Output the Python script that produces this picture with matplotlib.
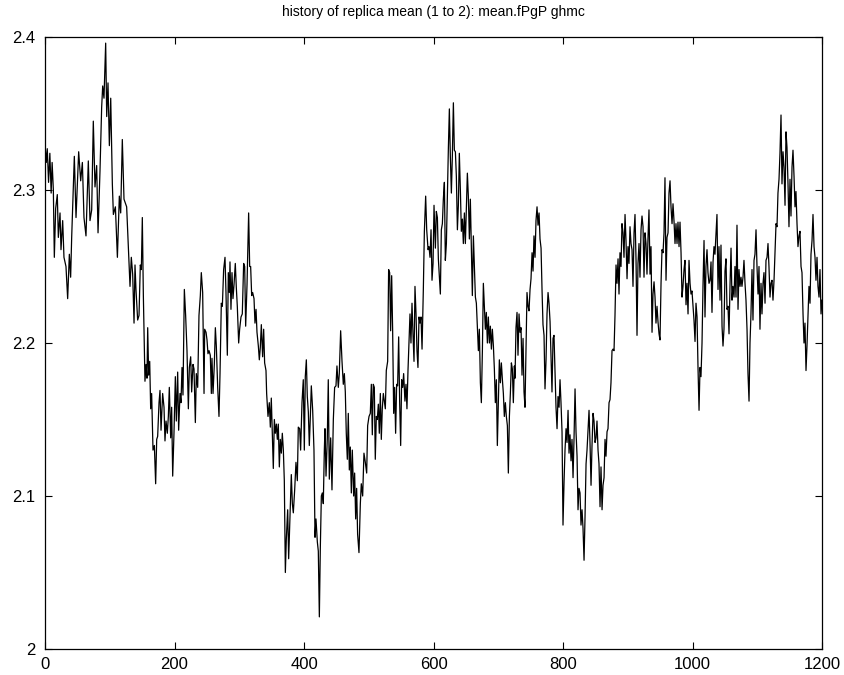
import matplotlib
matplotlib.use("Agg")
import matplotlib.pyplot as plt

# replica mean history
step = [
    # 0 - 140
    0.0, 2.0, 3.5, 5.5, 7.5, 9.5, 11.0, 12.9, 14.4, 16.5, 19.0, 20.6, 23.2, 24.7,
    27.3, 29.3, 32.4, 35.0, 37.6, 39.6, 41.2, 45.3, 47.9, 52.0, 55.1, 57.7, 60.2,
    63.3, 64.9, 66.9, 69.5, 72.1, 74.6, 77.2, 79.8, 81.9, 84.9, 87.5, 89.1, 91.1,
    93.7, 95.3, 97.3, 99.4, 101.5, 104.0, 105.6, 108.7, 111.8, 114.8, 116.9, 119.4,
    122.0, 126.1, 128.7, 131.3, 133.3, 135.4, 137.5,
    # 140 - 285
    139.0, 140.5, 143.1, 145.2, 147.2, 148.8, 150.3, 151.9, 154.4, 156.0, 157.5,
    158.6, 160.1, 161.7, 163.2, 164.7, 166.8, 168.9, 170.9, 172.5, 174.0, 176.1,
    177.6, 179.2, 181.7, 183.8, 185.3, 186.9, 188.9, 190.5, 192.0, 194.1, 195.6,
    197.2, 199.2, 201.3, 202.8, 204.9, 206.4, 208.5, 210.0, 211.6, 213.1, 215.2,
    217.2, 219.3, 221.4, 222.9, 225.0, 226.5, 228.6, 230.1, 232.2, 233.7, 235.8,
    237.8, 239.9, 241.4, 243.5, 245.6, 246.6, 248.7, 250.2, 251.7, 253.3, 255.3,
    256.9, 257.9, 259.5, 261.5, 263.1, 264.6, 266.7, 268.7, 270.3, 272.3, 273.9,
    275.9, 278.0, 279.5, 281.6, 283.1, 284.7,
    # 285 - 432
    285.7, 287.2, 288.8, 290.3, 291.9, 293.9, 295.5, 297.0, 299.1, 300.6, 302.7,
    304.7, 306.8, 308.4, 309.9, 312.0, 314.5, 316.1, 317.6, 319.2, 320.7, 322.8,
    324.3, 325.9, 327.4, 329.5, 331.0, 332.5, 334.1, 336.1, 337.7, 339.2, 341.3,
    342.3, 344.4, 346.4, 348.0, 349.5, 351.1, 352.6, 354.2, 355.7, 357.3, 358.8,
    360.3, 361.9, 363.4, 365.0, 366.5, 368.1, 369.6, 371.2, 372.7, 374.8, 376.3,
    378.4, 380.4, 382.0, 383.5, 385.6, 387.6, 389.7, 391.2, 393.3, 394.8, 396.9,
    398.9, 400.5, 402.0, 403.6, 405.1, 406.7, 408.2, 409.8, 411.3, 413.4, 415.4,
    417.0, 418.5, 420.6, 422.1, 423.7, 425.2, 426.8, 428.3, 429.8, 431.4,
    # 432 - 578
    432.4, 434.0, 436.0, 437.5, 439.1, 441.2, 443.2, 445.3, 447.3, 449.4, 450.9,
    453.0, 454.5, 456.6, 458.7, 460.7, 462.3, 463.8, 465.3, 466.9, 468.4, 470.0,
    471.5, 473.1, 474.6, 476.7, 478.2, 479.8, 481.3, 482.8, 484.9, 487.0, 488.5,
    490.6, 492.6, 494.7, 496.8, 498.3, 500.4, 502.4, 504.0, 505.5, 507.0, 508.6,
    510.1, 511.7, 513.2, 514.8, 516.3, 517.9, 519.4, 520.9, 522.5, 524.0, 525.6,
    527.1, 529.2, 530.7, 532.3, 533.8, 535.4, 536.9, 538.5, 540.0, 541.5, 543.1,
    544.6, 546.2, 547.7, 549.3, 550.8, 552.4, 553.9, 555.9, 557.5, 559.0, 560.6,
    562.1, 563.7, 565.2, 566.8, 568.3, 569.9, 571.4, 573.0, 574.5, 576.0, 577.6,
    # 579 - 725
    579.2, 580.7, 582.3, 584.3, 585.9, 587.9, 589.5, 591.6, 593.1, 594.6, 596.2,
    597.7, 599.3, 600.8, 602.9, 604.4, 606.0, 607.5, 609.1, 610.6, 612.1, 613.7,
    615.2, 616.8, 618.3, 619.9, 621.4, 623.0, 624.5, 626.0, 627.6, 629.1, 630.7,
    632.2, 633.8, 635.3, 636.9, 638.4, 639.9, 641.5, 643.0, 644.6, 646.1, 647.7,
    649.2, 650.8, 652.3, 653.8, 655.4, 656.9, 658.5, 660.0, 661.6, 663.1, 664.7,
    666.2, 667.7, 669.3, 670.8, 672.4, 673.9, 675.5, 677.0, 678.6, 680.1, 681.6,
    683.2, 684.7, 686.3, 687.8, 689.4, 690.9, 692.5, 694.0, 695.5, 697.1, 698.6,
    700.2, 701.7, 703.3, 704.8, 706.4, 707.9, 709.4, 711.0, 712.5, 714.1, 715.6,
    717.2, 718.7, 720.3, 721.8, 723.3, 724.9,
    # 726 - 871
    725.9, 727.4, 729.0, 730.5, 732.1, 733.6, 735.2, 736.7, 738.3, 739.8, 741.3,
    742.9, 744.4, 746.0, 747.5, 749.1, 750.6, 752.2, 753.7, 755.2, 756.8, 758.3,
    759.9, 761.4, 763.0, 764.5, 766.1, 767.6, 769.1, 770.7, 772.2, 773.8, 775.3,
    776.9, 778.4, 780.0, 781.5, 783.0, 784.6, 786.1, 787.7, 789.2, 790.8, 792.3,
    793.9, 795.4, 796.9, 798.5, 800.0, 801.6, 803.1, 804.7, 806.2, 807.8, 809.3,
    810.8, 812.4, 813.9, 815.5, 817.0, 818.6, 820.1, 821.7, 823.2, 824.7, 826.3,
    827.8, 829.4, 830.9, 832.5, 834.0, 835.6, 837.1, 838.6, 840.2, 841.7, 843.3,
    844.8, 846.4, 847.9, 849.5, 851.0, 852.5, 854.1, 855.6, 857.2, 858.7, 860.3,
    861.8, 863.4, 864.9, 866.4, 868.0, 869.5, 871.1,
    # 872 - 1018
    872.6, 874.1, 875.7, 877.2, 878.8, 880.3, 881.9, 883.4, 885.0, 886.5, 888.0,
    889.6, 891.1, 892.7, 894.2, 895.8, 897.3, 898.9, 900.4, 901.9, 903.5, 905.0,
    906.6, 908.1, 909.7, 911.2, 912.8, 914.3, 915.8, 917.4, 918.9, 920.5, 922.0,
    923.6, 925.1, 926.7, 928.2, 929.7, 931.3, 932.8, 934.4, 935.9, 937.5, 939.0,
    940.6, 942.1, 943.6, 945.2, 946.7, 948.3, 949.8, 951.4, 952.9, 954.5, 956.0,
    957.5, 959.1, 960.6, 962.2, 963.7, 965.3, 966.8, 968.4, 969.9, 971.4, 973.0,
    974.5, 976.1, 977.6, 979.2, 980.7, 982.3, 983.8, 985.3, 986.9, 988.4, 990.0,
    991.5, 993.1, 994.6, 996.2, 997.7, 999.2, 1000.8, 1002.3, 1003.9, 1005.4,
    1007.0, 1008.5, 1010.1, 1011.6, 1013.1, 1014.7, 1016.2, 1017.8,
    # 1019 - 1200
    1019.3, 1020.8, 1022.4, 1023.9, 1025.5, 1027.0, 1028.6, 1030.1, 1031.7, 1033.2,
    1034.7, 1036.3, 1037.8, 1039.4, 1040.9, 1042.5, 1044.0, 1045.6, 1047.1, 1048.6,
    1050.2, 1051.7, 1053.3, 1054.8, 1056.4, 1057.9, 1059.5, 1061.0, 1062.5, 1064.1,
    1065.6, 1067.2, 1068.7, 1070.3, 1071.8, 1073.4, 1074.9, 1076.4, 1078.0, 1079.5,
    1081.1, 1082.6, 1084.2, 1085.7, 1087.3, 1088.8, 1090.3, 1091.9, 1093.4, 1095.0,
    1096.5, 1098.1, 1099.6, 1101.2, 1102.7, 1104.2, 1105.8, 1107.3, 1108.9, 1110.4,
    1112.0, 1113.5, 1115.1, 1116.6, 1118.1, 1119.7, 1121.2, 1122.8, 1124.3, 1125.9,
    1127.4, 1129.0, 1130.5, 1132.0, 1133.6, 1135.1, 1136.7, 1138.2, 1139.8, 1141.3,
    1142.9, 1144.4, 1145.9, 1147.5, 1149.0, 1150.6, 1152.1, 1153.7, 1155.2, 1156.8,
    1158.3, 1159.8, 1161.4, 1162.9, 1164.5, 1166.0, 1167.6, 1169.1, 1170.7, 1172.2,
    1173.7, 1175.3, 1176.8, 1178.4, 1179.9, 1181.5, 1183.0, 1184.6, 1186.1, 1187.7,
    1189.2, 1190.7, 1192.3, 1193.8, 1195.4, 1196.9, 1198.5, 1200.0,
]

mean = [
    # 0 - 140
    2.330, 2.318, 2.327, 2.305, 2.324, 2.298, 2.318, 2.300, 2.256, 2.288, 2.297, 2.269,
    2.285, 2.261, 2.280, 2.256, 2.250, 2.229, 2.258, 2.243, 2.269, 2.322, 2.282, 2.325,
    2.306, 2.318, 2.282, 2.270, 2.292, 2.319, 2.280, 2.287, 2.345, 2.302, 2.316, 2.272,
    2.312, 2.354, 2.368, 2.360, 2.396, 2.348, 2.370, 2.329, 2.360, 2.304, 2.284, 2.289,
    2.256, 2.296, 2.285, 2.333, 2.294, 2.289, 2.263, 2.237, 2.256, 2.245, 2.213,
    # 140 - 285
    2.251, 2.235, 2.215, 2.218, 2.251, 2.248, 2.282, 2.231, 2.175, 2.186, 2.177,
    2.210, 2.179, 2.188, 2.157, 2.167, 2.130, 2.133, 2.108, 2.137, 2.139, 2.161,
    2.169, 2.143, 2.167, 2.158, 2.136, 2.149, 2.141, 2.152, 2.171, 2.138, 2.158,
    2.113, 2.141, 2.178, 2.149, 2.181, 2.143, 2.167, 2.161, 2.184, 2.166, 2.235,
    2.218, 2.195, 2.157, 2.184, 2.191, 2.168, 2.186, 2.183, 2.148, 2.180, 2.171,
    2.218, 2.231, 2.246, 2.233, 2.167, 2.209, 2.207, 2.202, 2.193, 2.195, 2.192,
    2.167, 2.190, 2.167, 2.186, 2.210, 2.198, 2.171, 2.152, 2.180, 2.226, 2.224,
    2.248, 2.256, 2.233, 2.192, 2.246, 2.233,
    # 285 - 432
    2.253, 2.222, 2.246, 2.229, 2.238, 2.252, 2.236, 2.224, 2.200, 2.209, 2.217,
    2.219, 2.252, 2.250, 2.211, 2.238, 2.285, 2.250, 2.250, 2.231, 2.233, 2.229,
    2.213, 2.222, 2.207, 2.198, 2.189, 2.197, 2.212, 2.191, 2.209, 2.187, 2.182,
    2.167, 2.152, 2.161, 2.145, 2.164, 2.139, 2.118, 2.150, 2.141, 2.147, 2.137,
    2.147, 2.119, 2.137, 2.128, 2.141, 2.130, 2.110, 2.050, 2.072, 2.091, 2.059,
    2.087, 2.114, 2.095, 2.089, 2.104, 2.122, 2.110, 2.145, 2.144, 2.130, 2.161,
    2.176, 2.130, 2.178, 2.189, 2.165, 2.155, 2.133, 2.152, 2.172, 2.156, 2.130,
    2.073, 2.085, 2.070, 2.064, 2.021, 2.066, 2.100, 2.102, 2.095, 2.130,
    # 432 - 578
    2.144, 2.113, 2.138, 2.176, 2.111, 2.138, 2.104, 2.150, 2.171, 2.172, 2.185,
    2.171, 2.180, 2.208, 2.188, 2.173, 2.180, 2.168, 2.141, 2.124, 2.154, 2.117,
    2.132, 2.102, 2.130, 2.100, 2.115, 2.085, 2.105, 2.075, 2.063, 2.095, 2.108,
    2.100, 2.128, 2.122, 2.115, 2.146, 2.152, 2.154, 2.173, 2.140, 2.173, 2.171,
    2.124, 2.152, 2.150, 2.160, 2.141, 2.167, 2.137, 2.157, 2.167, 2.162, 2.157,
    2.182, 2.188, 2.248, 2.246, 2.208, 2.244, 2.208, 2.154, 2.171, 2.141, 2.173,
    2.172, 2.204, 2.162, 2.133, 2.176, 2.171, 2.180, 2.162, 2.173, 2.157, 2.182,
    2.200, 2.219, 2.200, 2.226, 2.206, 2.188, 2.237, 2.219, 2.195, 2.184, 2.217,
    # 579 - 725
    2.213, 2.217, 2.196, 2.235, 2.273, 2.296, 2.274, 2.261, 2.263, 2.256, 2.274,
    2.241, 2.252, 2.290, 2.262, 2.286, 2.282, 2.255, 2.243, 2.232, 2.274, 2.278,
    2.294, 2.305, 2.254, 2.265, 2.296, 2.328, 2.353, 2.322, 2.298, 2.322, 2.357,
    2.326, 2.325, 2.309, 2.274, 2.290, 2.324, 2.300, 2.273, 2.281, 2.265, 2.285,
    2.265, 2.289, 2.311, 2.296, 2.268, 2.294, 2.261, 2.231, 2.270, 2.250, 2.230,
    2.226, 2.211, 2.195, 2.209, 2.174, 2.161, 2.195, 2.239, 2.224, 2.209, 2.220,
    2.200, 2.217, 2.200, 2.211, 2.196, 2.209, 2.198, 2.183, 2.161, 2.176, 2.133,
    2.161, 2.189, 2.174, 2.187, 2.176, 2.167, 2.152, 2.161, 2.152, 2.146, 2.115,
    2.152, 2.167, 2.187, 2.183, 2.161, 2.185,
    # 726 - 871
    2.177, 2.210, 2.220, 2.192, 2.219, 2.207, 2.210, 2.179, 2.203, 2.168, 2.158,
    2.196, 2.233, 2.224, 2.221, 2.235, 2.242, 2.259, 2.247, 2.270, 2.256, 2.280,
    2.289, 2.277, 2.285, 2.268, 2.262, 2.235, 2.212, 2.205, 2.170, 2.189, 2.219,
    2.233, 2.226, 2.214, 2.191, 2.168, 2.203, 2.205, 2.182, 2.158, 2.144, 2.165,
    2.158, 2.176, 2.161, 2.142, 2.081, 2.109, 2.130, 2.144, 2.135, 2.156, 2.128,
    2.140, 2.123, 2.137, 2.112, 2.137, 2.170, 2.142, 2.126, 2.091, 2.105, 2.102,
    2.081, 2.091, 2.079, 2.058, 2.086, 2.121, 2.130, 2.142, 2.156, 2.135, 2.107,
    2.133, 2.154, 2.149, 2.135, 2.138, 2.149, 2.130, 2.121, 2.093, 2.119, 2.091,
    2.107, 2.112, 2.137, 2.126, 2.142, 2.144, 2.161,
    # 872 - 1018
    2.163, 2.174, 2.195, 2.196, 2.195, 2.218, 2.251, 2.239, 2.255, 2.232, 2.259,
    2.250, 2.278, 2.272, 2.256, 2.284, 2.267, 2.242, 2.263, 2.252, 2.276, 2.265,
    2.261, 2.237, 2.272, 2.284, 2.254, 2.205, 2.252, 2.265, 2.243, 2.274, 2.283,
    2.276, 2.243, 2.272, 2.265, 2.245, 2.269, 2.287, 2.245, 2.263, 2.207, 2.232,
    2.240, 2.230, 2.213, 2.224, 2.214, 2.206, 2.202, 2.239, 2.261, 2.259, 2.272,
    2.308, 2.241, 2.269, 2.272, 2.298, 2.306, 2.289, 2.278, 2.291, 2.280, 2.265,
    2.278, 2.265, 2.279, 2.263, 2.279, 2.259, 2.230, 2.237, 2.248, 2.254, 2.225,
    2.239, 2.219, 2.254, 2.239, 2.232, 2.234, 2.224, 2.215, 2.201, 2.226,
    2.217, 2.184, 2.156, 2.184, 2.178, 2.200, 2.237, 2.267,
    # 1019 - 1200
    2.217, 2.250, 2.261, 2.246, 2.239, 2.241, 2.253, 2.220, 2.253, 2.263,
    2.258, 2.271, 2.284, 2.235, 2.263, 2.228, 2.264, 2.211, 2.198, 2.209,
    2.247, 2.255, 2.222, 2.224, 2.206, 2.237, 2.262, 2.228, 2.237, 2.230,
    2.250, 2.230, 2.277, 2.222, 2.248, 2.237, 2.243, 2.237, 2.243, 2.254,
    2.239, 2.228, 2.209, 2.180, 2.162, 2.200, 2.219, 2.248, 2.215, 2.254,
    2.258, 2.274, 2.250, 2.232, 2.250, 2.209, 2.239, 2.219, 2.239, 2.246,
    2.226, 2.254, 2.256, 2.265, 2.250, 2.230, 2.239, 2.241, 2.228, 2.241,
    2.258, 2.278, 2.276, 2.298, 2.307, 2.324, 2.349, 2.304, 2.325, 2.315,
    2.290, 2.338, 2.328, 2.304, 2.276, 2.307, 2.283, 2.315, 2.326, 2.309,
    2.289, 2.299, 2.278, 2.263, 2.270, 2.273, 2.250, 2.246, 2.219, 2.200,
    2.213, 2.182, 2.198, 2.219, 2.237, 2.226, 2.258, 2.267, 2.284, 2.263,
    2.256, 2.241, 2.256, 2.237, 2.230, 2.248, 2.219, 2.228,
]

x_ticks = [0, 200, 400, 600, 800, 1000, 1200]
y_ticks = [2.0, 2.1, 2.2, 2.3, 2.4]
y_tick_labels = ['2', '2.1', '2.2', '2.3', '2.4']
title = 'history of replica mean (1 to 2): mean.fPgP ghmc'

plt.rcParams['font.family'] = ['Liberation Sans', 'DejaVu Sans']

fig = plt.figure(figsize=(8.45, 6.75), dpi=100)
ax = fig.add_axes([45 / 845, 26 / 675, 777 / 845, 612 / 675])

ax.plot(step, mean, color='black', linewidth=0.9)

ax.set_xlim(0, 1200)
ax.set_ylim(2.0, 2.4)
ax.set_xticks(x_ticks)
ax.set_yticks(y_ticks)
ax.set_yticklabels(y_tick_labels)
ax.tick_params(direction='in', top=True, right=True, length=5, width=0.8,
               labelsize=12)
ax.tick_params(axis='y', pad=7)
ax.tick_params(axis='x', pad=6)
for sp in ax.spines.values():
    sp.set_linewidth(0.9)

ax.set_title(title, fontsize=10, pad=15)

fig.savefig('out.png', dpi=100)
